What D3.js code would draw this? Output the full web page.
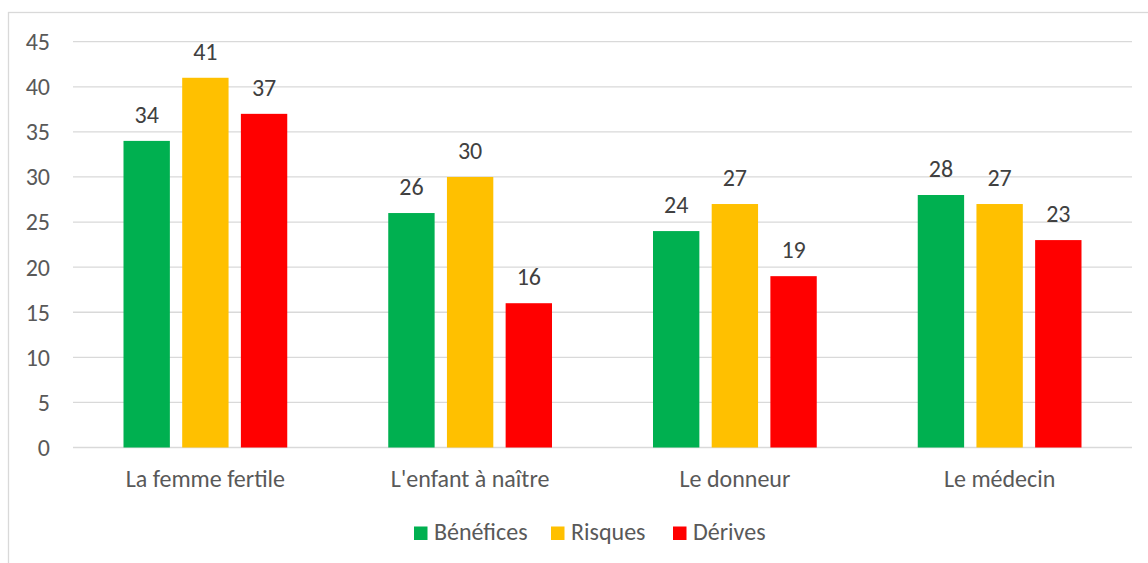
<!DOCTYPE html>
<html>
  <head>
    <meta charset="utf-8">
    <script src="https://d3js.org/d3.v7.min.js"></script>
    <style>
      body { margin:0; background:#fff; }
      text { font-family: Carlito, "Open Sans", "Liberation Sans", sans-serif; }
    </style>
  </head>
  <body>
    <svg width="1148" height="563"></svg>
    <script>
    // data
    var categories = ["La femme fertile", "L'enfant à naître", "Le donneur", "Le médecin"];
    var seriesNames = ["Bénéfices", "Risques", "Dérives"];
    var seriesColors = ["#00b050", "#ffc000", "#ff0000"];
    var benefices = [34, 26, 24, 28];
    var risques = [41, 30, 27, 27];
    var derives = [37, 16, 19, 23];
    var yTicks = [0, 5, 10, 15, 20, 25, 30, 35, 40, 45];

    var seriesValues = [benefices, risques, derives];

    var svg = d3.select("svg");
    var plot = {left:73, right:1132, top:41.7, bottom:447.5};

    // outer chart border (runs past the right/bottom edge)
    svg.append("rect")
      .attr("x", 8.5).attr("y", 12.5)
      .attr("width", 1160).attr("height", 600)
      .attr("fill", "none").attr("stroke", "#d9d9d9").attr("stroke-width", 1.3);

    var y = d3.scaleLinear().domain([0, 45]).range([plot.bottom, plot.top]);
    var x0 = d3.scaleBand().domain(categories).range([plot.left, plot.right]).padding(0);
    var x1 = d3.scaleBand().domain(seriesNames)
      .range([50.5, x0.bandwidth() - 50.5]).paddingInner(0.21).paddingOuter(0);

    // gridlines
    svg.append("g").selectAll("line")
      .data(yTicks).enter().append("line")
      .attr("x1", plot.left).attr("x2", plot.right)
      .attr("y1", function(d){ return y(d); })
      .attr("y2", function(d){ return y(d); })
      .attr("stroke", "#d9d9d9").attr("stroke-width", 1.3);

    // y labels
    svg.append("g").selectAll("text")
      .data(yTicks).enter().append("text")
      .attr("x", 50).attr("y", function(d){ return y(d); })
      .attr("dy", "0.35em")
      .attr("text-anchor", "end")
      .attr("font-size", 24).attr("fill", "#595959")
      .text(function(d){ return d; });

    // bars
    var groups = svg.append("g").selectAll("g")
      .data(categories).enter().append("g")
      .attr("transform", function(d){ return "translate(" + x0(d) + ",0)"; });

    groups.each(function(cat, ci){
      var g = d3.select(this);
      var vals = seriesNames.map(function(s, si){ return {s:s, si:si, v:seriesValues[si][ci]}; });
      g.selectAll("rect").data(vals).enter().append("rect")
        .attr("x", function(d){ return x1(d.s); })
        .attr("width", x1.bandwidth())
        .attr("y", function(d){ return y(d.v); })
        .attr("height", function(d){ return y(0) - y(d.v); })
        .attr("fill", function(d){ return seriesColors[d.si]; });
      g.selectAll("text").data(vals).enter().append("text")
        .attr("x", function(d){ return x1(d.s) + x1.bandwidth()/2; })
        .attr("y", function(d){ return y(d.v) - 18; })
        .attr("text-anchor", "middle")
        .attr("font-size", 24).attr("fill", "#404040")
        .text(function(d){ return d.v; });
    });

    // category labels
    svg.append("g").selectAll("text")
      .data(categories).enter().append("text")
      .attr("x", function(d){ return x0(d) + x0.bandwidth()/2; })
      .attr("y", 487)
      .attr("text-anchor", "middle")
      .attr("font-size", 24).attr("fill", "#595959")
      .text(function(d){ return d; });

    // legend
    var legendX = [414, 551, 673];
    var leg = svg.append("g").selectAll("g")
      .data(seriesNames).enter().append("g")
      .attr("transform", function(d, i){ return "translate(" + legendX[i] + ",526.5)"; });
    leg.append("rect").attr("width", 13.5).attr("height", 13.5)
      .attr("fill", function(d, i){ return seriesColors[i]; });
    leg.append("text").attr("x", 20).attr("y", 13.5)
      .attr("font-size", 24).attr("fill", "#595959")
      .text(function(d){ return d; });
    </script>
  </body>
</html>
